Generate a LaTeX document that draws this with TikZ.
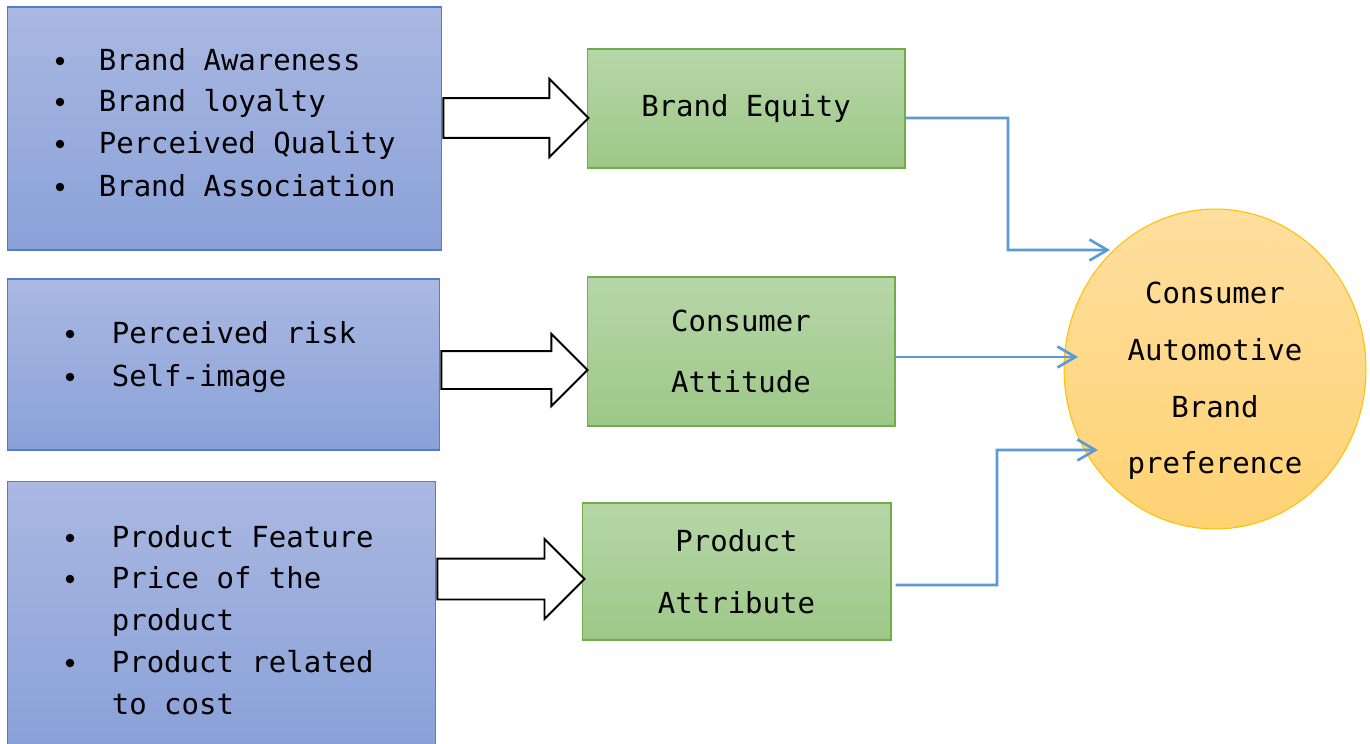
\documentclass[tikz,border=0pt]{standalone}
\usepackage{fontspec}
\newfontfamily\factorfont{DejaVu Sans Mono}
\usetikzlibrary{shapes.geometric,shapes.arrows,arrows.meta}

\definecolor{bluetop}{HTML}{AAB8E2}
\definecolor{bluebot}{HTML}{8AA1D8}
\definecolor{blueline}{HTML}{4F7DD0}
\definecolor{greentop}{HTML}{B7D6A8}
\definecolor{greenbot}{HTML}{9DC888}
\definecolor{greenline}{HTML}{70AD47}
\definecolor{prefTop}{HTML}{FFDF9F}
\definecolor{prefBot}{HTML}{FFD273}
\definecolor{prefLine}{HTML}{FFC000}
\definecolor{linkblue}{HTML}{5B9BD5}

\begin{document}
\begin{tikzpicture}[x=0.02cm,y=-0.02cm]
\tikzstyle{factor}=[draw=blueline,rectangle,top color=bluetop,bottom color=bluebot,line width=0.6pt,inner sep=0pt]
\tikzstyle{driver}=[draw=greenline,rectangle,top color=greentop,bottom color=greenbot,line width=0.6pt,
  align=center,font=\fontsize{16.5}{35}\selectfont\factorfont]
\tikzstyle{item}=[anchor=base west,inner sep=0pt,font=\fontsize{16.5}{20}\selectfont\factorfont]
\tikzstyle{dot}=[circle,fill=black,inner sep=0pt,minimum size=0.17cm]
\tikzstyle{fatarrow}=[draw,single arrow,fill=white,line width=1.1pt,inner xsep=0pt,
  single arrow tip angle=90,anchor=tail]
\tikzstyle{link}=[draw=linkblue,line width=1.5pt,->,>={Straight Barb[length=0.36cm,width=0.42cm]}]

\useasboundingbox (0,0) rectangle (1370,744);

% Factor boxes on the left
\node[factor,minimum width=8.7cm,minimum height=4.86cm] (equityF) at (224.5,128.5) {};
\node[factor,minimum width=8.66cm,minimum height=3.42cm] (attitudeF) at (223.5,364.5) {};
\node[factor,minimum width=8.58cm,minimum height=5.3cm] (attributeF) at (221.5,613.5) {};

% Bullet lists
\foreach \y/\txt [count=\i] in {60/Brand Awareness,101/Brand loyalty,
                                143/Perceived Quality,186/Brand Association} {
  \node[dot] (eqB\i) at (60,\y+1) {};
  \node[item] (eqT\i) at (98.5,\y+10) {\txt};
}
\foreach \y/\txt [count=\i] in {333/Perceived risk,376/Self-image} {
  \node[dot] (atB\i) at (70,\y+1) {};
  \node[item] (atT\i) at (111.5,\y+10) {\txt};
}
\foreach \y in {537,578,662} {
  \node[dot] (prB\y) at (70,\y+1) {};
}
\foreach \y/\txt [count=\i] in {537/Product Feature,578/Price of the,620/product,
                                662/Product related,704/to cost} {
  \node[item] (prT\i) at (111.5,\y+10) {\txt};
}

% Constructs in the middle
\node[driver,minimum width=6.36cm,minimum height=2.38cm] (equity) at (746,108.5) {Brand Equity};
\node[driver,minimum width=6.16cm,minimum height=2.98cm] (attitude) at (741,351.5) {Consumer\\Attitude};
\node[driver,minimum width=6.18cm,minimum height=2.74cm] (attribute) at (736.5,571.5) {Product\\Attribute};

% Block arrows, tail on the factor box
\node[fatarrow,minimum height=2.9cm,inner ysep=0.38cm,single arrow head extend=0.38cm] (arrEq) at (equityF.east |- 0,118) {};
\node[fatarrow,minimum height=2.92cm,inner ysep=0.36cm,single arrow head extend=0.34cm] (arrAt) at (attitudeF.east |- 0,370) {};
\node[fatarrow,minimum height=2.94cm,inner ysep=0.39cm,single arrow head extend=0.39cm] (arrPr) at (attributeF.east |- 0,579) {};

% Brand preference
\node[ellipse,draw=prefLine,top color=prefTop,bottom color=prefBot,line width=0.6pt,
      minimum width=6.04cm,minimum height=6.4cm] (pref) at (1215,369) {};
\node[align=center,font=\fontsize{16.5}{32.3}\selectfont\factorfont] (prefText) at (1215,381)
  {Consumer\\Automotive\\Brand\\preference};

\coordinate (inEq) at (1110,250);
\coordinate (inAt) at (1078,357);
\coordinate (inPr) at (1098,450);

\draw[link] ([yshift=-0.19cm]equity.east) -- (1008,118) -- (1008,250) -- (inEq);
\draw[link] (attitude.east |- inAt) -- (inAt);
\draw[link] ([xshift=0.08cm,yshift=-0.27cm]attribute.east) -- (997,585) -- (997,450) -- (inPr);
\end{tikzpicture}
\end{document}
